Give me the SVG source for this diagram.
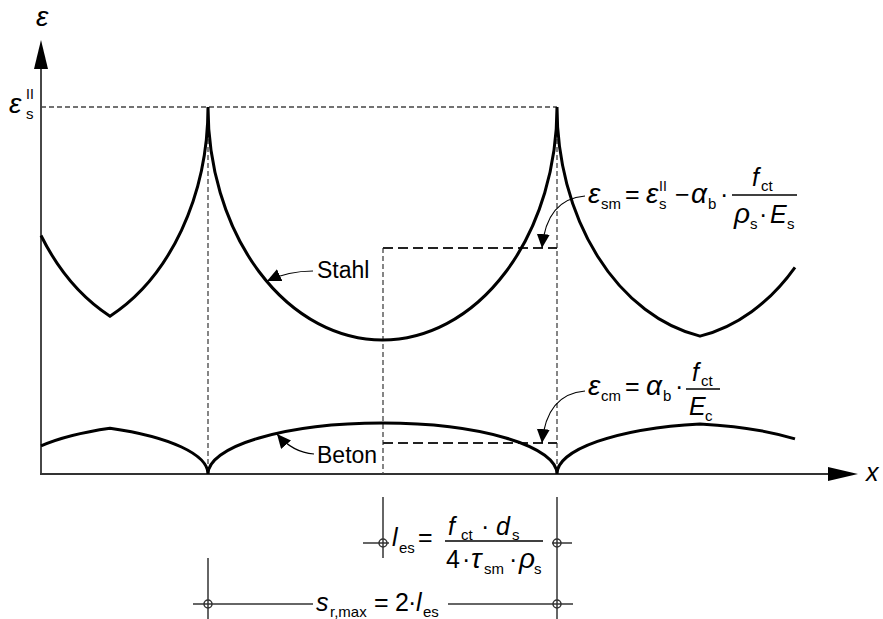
<svg xmlns="http://www.w3.org/2000/svg" width="883" height="619" viewBox="0 0 883 619">
<style>
.t{font-family:"Liberation Sans",Arial,sans-serif;fill:#000}
.i{font-style:italic}
.m{font-size:25px}
.g{font-size:28px;font-style:italic}
.sub{font-size:15px}
.sup{font-size:14px}
.lbl{font-size:23px}
.axis{stroke:#333;stroke-width:1.8;fill:none}
.curve{stroke:#000;stroke-width:3;fill:none;stroke-linejoin:miter}
.thin{stroke:#444;stroke-width:1.3;stroke-dasharray:5,3;fill:none}
.heavy{stroke:#222;stroke-width:2;stroke-dasharray:10,5;fill:none}
.dim{stroke:#333;stroke-width:1.5;fill:none}
.lead{stroke:#000;stroke-width:1.2;fill:none;marker-end:url(#ah)}
.bar{stroke:#000;stroke-width:1.4}
</style>
<defs>
<marker id="ah" markerUnits="userSpaceOnUse" markerWidth="15" markerHeight="14" refX="14" refY="6.5" orient="auto">
<path d="M0,0 L14,6.5 L0,13 z" fill="#000"/>
</marker>
</defs>

<g id="axes">
<line class="axis" x1="41" y1="66" x2="41" y2="474"/>
<line class="axis" x1="40" y1="474" x2="830" y2="474"/>
<polygon points="41,40 34,69 48,69" fill="#000"/>
<polygon points="858,474 828,467 828,481" fill="#000"/>
<text class="t g" x="36" y="26">ε</text>
<text class="t i m" x="866" y="481">x</text>
<text class="t g" x="9" y="113">ε</text>
<text class="t sup" x="26" y="99">II</text>
<text class="t sub" x="26" y="119">s</text>
</g>

<g id="guides">
<line class="thin" x1="41" y1="107" x2="557" y2="107"/>
<line class="thin" x1="208" y1="107" x2="208" y2="474"/>
<line class="thin" x1="557" y1="107" x2="557" y2="474"/>
<line class="thin" x1="383" y1="248" x2="383" y2="474"/>
<line class="heavy" x1="383" y1="248" x2="557" y2="248"/>
<line class="heavy" x1="383" y1="443" x2="557" y2="443"/>
</g>

<g id="stahl">
<path class="curve" d="M41,235.5 A175,233 0 0 0 110,316.2 A175,233 0 0 0 208,107 A174.5,233 0 0 0 557,107 A175,233 0 0 0 700,336.1 A175,233 0 0 0 795,267.3"/>
<text class="t lbl" x="317" y="278">Stahl</text>
</g>

<g id="beton">
<path class="curve" d="M41,445.9 A175,51 0 0 1 110,428.2 A175,51 0 0 1 208,474 A174.5,51 0 0 1 557,474 A175,51 0 0 1 700,423.9 A175,51 0 0 1 795,438.9"/>
<text class="t lbl" x="317" y="463">Beton</text>
</g>

<g id="connectors">
<path class="lead" d="M313,271 C298,271 282,274 267,281"/>
<path class="lead" d="M314,454 C300,453 288,447 277,434"/>
<path class="lead" d="M585,196 C560,198 545,215 542,248"/>
<path class="lead" d="M585,391 C560,393 545,410 542,443"/>
</g>

<g id="eps-sm">
<text class="t g" x="588" y="203">ε</text>
<text class="t sub" x="601" y="209">sm</text>
<text class="t m" x="625" y="203">=</text>
<text class="t g" x="646" y="203">ε</text>
<text class="t sup" x="659" y="191">II</text>
<text class="t sub" x="659" y="209">s</text>
<text class="t m" x="675" y="203">−</text>
<text class="t g" x="691" y="203">α</text>
<text class="t sub" x="708" y="209">b</text>
<text class="t m" x="720" y="203">·</text>
<line class="bar" x1="732" y1="195" x2="797" y2="195"/>
<text class="t i m" x="752" y="186">f</text>
<text class="t sub" x="761" y="191">ct</text>
<text class="t g" x="734" y="223">ρ</text>
<text class="t sub" x="750" y="229">s</text>
<text class="t m" x="759" y="223">·</text>
<text class="t i m" x="770" y="223">E</text>
<text class="t sub" x="787" y="229">s</text>
</g>

<g id="eps-cm">
<text class="t g" x="588" y="395">ε</text>
<text class="t sub" x="601" y="401">cm</text>
<text class="t m" x="625" y="395">=</text>
<text class="t g" x="646" y="395">α</text>
<text class="t sub" x="663" y="401">b</text>
<text class="t m" x="675" y="395">·</text>
<line class="bar" x1="686" y1="389" x2="720" y2="389"/>
<text class="t i m" x="692" y="381">f</text>
<text class="t sub" x="701" y="386">ct</text>
<text class="t i m" x="689" y="415">E</text>
<text class="t sub" x="705" y="421">c</text>
</g>

<g id="dimensions">
<line class="dim" x1="383" y1="497" x2="383" y2="558"/>
<line class="dim" x1="557" y1="497" x2="557" y2="619"/>
<line class="dim" x1="208" y1="558" x2="208" y2="619"/>
<line class="dim" x1="363" y1="543" x2="389" y2="543"/>
<line class="dim" x1="552" y1="543" x2="572" y2="543"/>
<line class="dim" x1="193" y1="604" x2="313" y2="604"/>
<line class="dim" x1="448" y1="604" x2="573" y2="604"/>
<circle class="dim" cx="383" cy="543" r="4"/>
<circle class="dim" cx="557" cy="543" r="4"/>
<circle class="dim" cx="557" cy="604" r="4"/>
<circle class="dim" cx="208" cy="604" r="4"/>
</g>

<g id="les">
<text class="t i m" x="392" y="546">l</text>
<text class="t sub" x="399" y="553">es</text>
<text class="t m" x="418" y="546">=</text>
<line class="bar" x1="445" y1="541" x2="543" y2="541"/>
<text class="t i m" x="448" y="535">f</text>
<text class="t sub" x="461" y="540">ct</text>
<text class="t m" x="481" y="535">·</text>
<text class="t i m" x="496" y="535">d</text>
<text class="t sub" x="512" y="540">s</text>
<text class="t m" x="446" y="568">4</text>
<text class="t m" x="462" y="568">·</text>
<text class="t g" x="471" y="568">τ</text>
<text class="t sub" x="484" y="574">sm</text>
<text class="t m" x="509" y="568">·</text>
<text class="t g" x="519" y="568">ρ</text>
<text class="t sub" x="534" y="574">s</text>
</g>

<g id="srmax">
<text class="t i m" x="316" y="611">s</text>
<text class="t sub" x="330" y="617">r,max</text>
<text class="t m" x="374" y="611">=</text>
<text class="t m" x="395" y="611">2</text>
<text class="t m" x="408" y="611">·</text>
<text class="t i m" x="416" y="611">l</text>
<text class="t sub" x="423" y="617">es</text>
</g>
</svg>
